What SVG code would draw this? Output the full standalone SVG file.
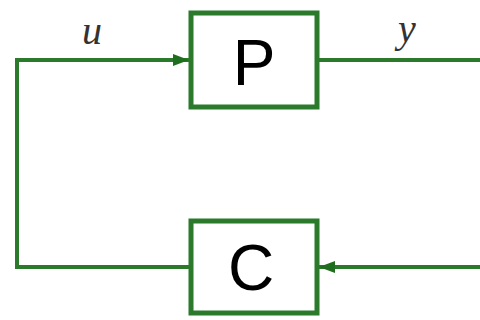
<svg xmlns="http://www.w3.org/2000/svg" width="480" height="320" viewBox="0 0 480 320">
<defs>
<style>
.box{fill:#ffffff;stroke:#2b7a2b;stroke-width:5}
.wire{fill:none;stroke:#2b7a2b;stroke-width:4}
.big{font-family:"Liberation Sans",Arial,sans-serif;font-size:64px;fill:#000;text-anchor:middle}
.lbl{font-family:"Liberation Serif","Times New Roman",serif;font-style:italic;font-size:40px;fill:#333;text-anchor:middle}
</style>
<marker id="arr" markerWidth="16" markerHeight="14" refX="16" refY="7" orient="auto" markerUnits="userSpaceOnUse">
<path d="M0,1 L16,7 L0,13 Z" fill="#1f6e1f"/>
</marker>
</defs>
<rect width="480" height="320" fill="#ffffff"/>
<g id="connectors">
<path class="wire" d="M191,267 L17,267 L17,60 L189,60" marker-end="url(#arr)"/>
<path class="wire" d="M317,60 L482,60"/>
<path class="wire" d="M482,267 L319,267" marker-end="url(#arr)"/>
</g>
<g id="P">
<rect class="box" x="191" y="13" width="126" height="94"/>
<text class="big" x="254" y="85">P</text>
</g>
<g id="C">
<rect class="box" x="191" y="221" width="126" height="92"/>
<text class="big" x="251" y="290">C</text>
</g>
<g id="labels">
<text class="lbl" x="92" y="44">u</text>
<text class="lbl" x="407" y="42">y</text>
</g>
</svg>
